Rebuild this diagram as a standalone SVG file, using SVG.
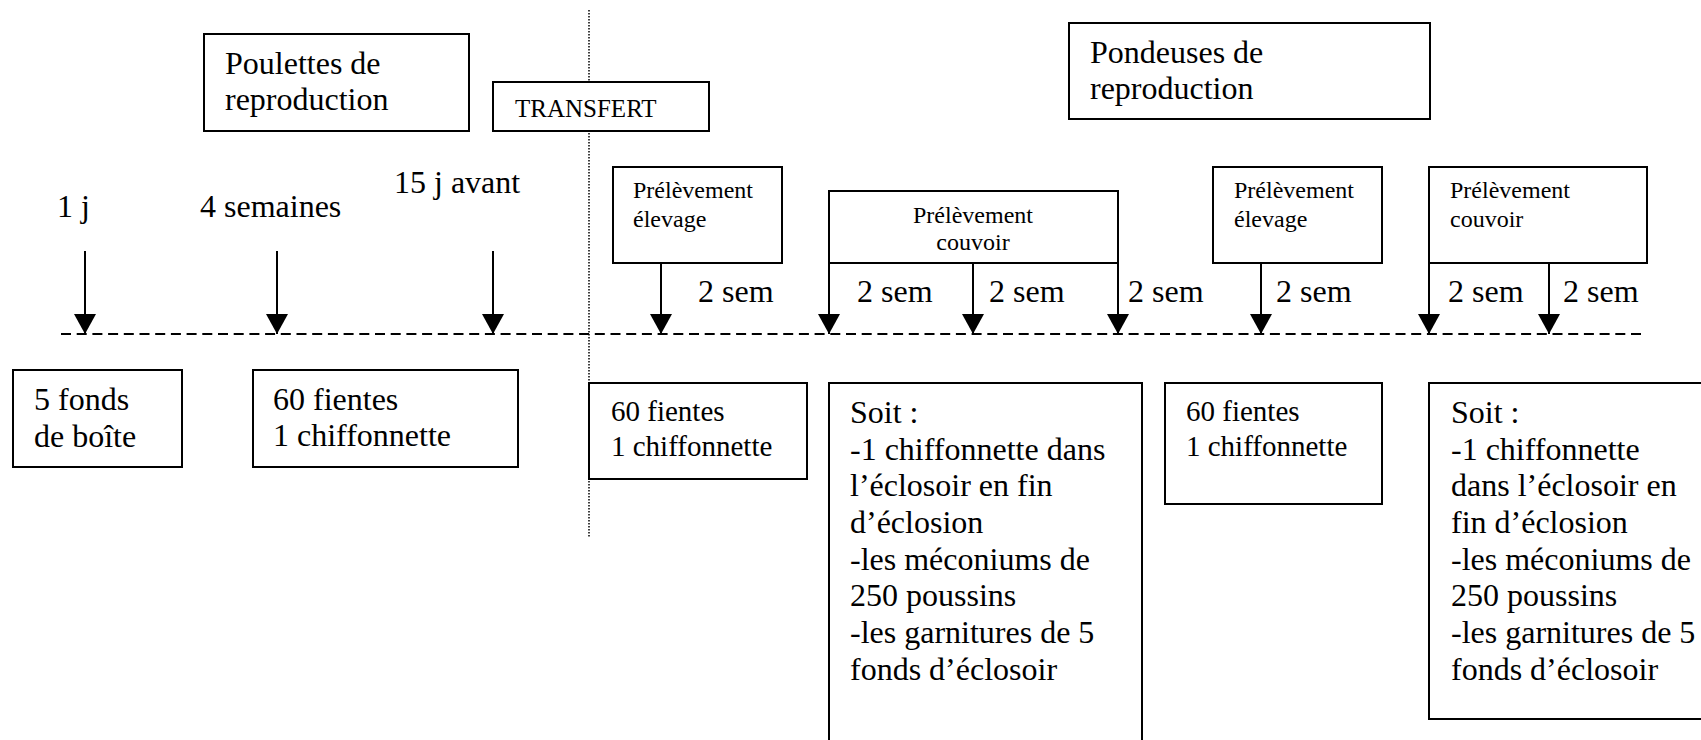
<svg xmlns="http://www.w3.org/2000/svg" width="1701" height="740" viewBox="0 0 1701 740">
  <style>
    text { font-family: "Liberation Serif", "Times New Roman", serif; fill: #000; }
    .big { font-size: 32px; }
    .mid { font-size: 29px; }
    .small { font-size: 24px; }
    .tr { font-size: 25px; }
    .box { fill: #fff; stroke: #000; stroke-width: 2; }
    .arrow { stroke: #000; stroke-width: 2; fill: none; marker-end: url(#ah); }
    .dash { stroke: #000; stroke-width: 2; stroke-dasharray: 10 5.7; fill: none; }
    .dot { stroke: #000; stroke-width: 1.5; stroke-dasharray: 1.5 1.5; fill: none; }
  </style>
  <defs>
    <marker id="ah" markerUnits="userSpaceOnUse" markerWidth="20" markerHeight="22" refX="20" refY="11" orient="auto">
      <path d="M0,0 L20,11 L0,22 z" fill="#000"/>
    </marker>
  </defs>
  <rect width="1701" height="740" fill="#fff"/>

  <g id="connectors">
    <line class="dot" x1="589" y1="10" x2="589" y2="537"/>
    <line class="dash" x1="61" y1="334" x2="1643" y2="334"/>
    <line class="arrow" x1="85" y1="251" x2="85" y2="334"/>
    <line class="arrow" x1="277" y1="251" x2="277" y2="334"/>
    <line class="arrow" x1="493" y1="251" x2="493" y2="334"/>
    <line class="arrow" x1="661" y1="263" x2="661" y2="334"/>
    <line class="arrow" x1="829" y1="263" x2="829" y2="334"/>
    <line class="arrow" x1="973" y1="263" x2="973" y2="334"/>
    <line class="arrow" x1="1118" y1="263" x2="1118" y2="334"/>
    <line class="arrow" x1="1261" y1="263" x2="1261" y2="334"/>
    <line class="arrow" x1="1429" y1="263" x2="1429" y2="334"/>
    <line class="arrow" x1="1549" y1="263" x2="1549" y2="334"/>
  </g>

  <g id="labels">
    <text class="big" x="57" y="217">1 j</text>
    <text class="big" x="200" y="217">4 semaines</text>
    <text class="big" x="394" y="193">15 j avant</text>
    <text class="big" x="698" y="302">2 sem</text>
    <text class="big" x="857" y="302">2 sem</text>
    <text class="big" x="989" y="302">2 sem</text>
    <text class="big" x="1128" y="302">2 sem</text>
    <text class="big" x="1276" y="302">2 sem</text>
    <text class="big" x="1448" y="302">2 sem</text>
    <text class="big" x="1563" y="302">2 sem</text>
  </g>

  <g id="poulettes">
    <rect class="box" x="204" y="34" width="265" height="97"/>
    <text class="big" x="225" y="74">Poulettes de</text>
    <text class="big" x="225" y="110">reproduction</text>
  </g>

  <g id="transfert">
    <rect class="box" x="493" y="82" width="216" height="49"/>
    <text class="tr" x="515" y="117">TRANSFERT</text>
  </g>

  <g id="pondeuses">
    <rect class="box" x="1069" y="23" width="361" height="96"/>
    <text class="big" x="1090" y="63">Pondeuses de</text>
    <text class="big" x="1090" y="99">reproduction</text>
  </g>

  <g id="prelevement-elevage-1">
    <rect class="box" x="613" y="167" width="169" height="96"/>
    <text class="small" x="633" y="198">Prélèvement</text>
    <text class="small" x="633" y="227">élevage</text>
  </g>

  <g id="prelevement-couvoir-1">
    <rect class="box" x="829" y="191" width="289" height="72"/>
    <text class="small" x="973" y="223" text-anchor="middle">Prélèvement</text>
    <text class="small" x="973" y="250" text-anchor="middle">couvoir</text>
  </g>

  <g id="prelevement-elevage-2">
    <rect class="box" x="1213" y="167" width="169" height="96"/>
    <text class="small" x="1234" y="198">Prélèvement</text>
    <text class="small" x="1234" y="227">élevage</text>
  </g>

  <g id="prelevement-couvoir-2">
    <rect class="box" x="1429" y="167" width="218" height="96"/>
    <text class="small" x="1450" y="198">Prélèvement</text>
    <text class="small" x="1450" y="227">couvoir</text>
  </g>

  <g id="fonds-boite">
    <rect class="box" x="13" y="370" width="169" height="97"/>
    <text class="big" x="34" y="410">5 fonds</text>
    <text class="big" x="34" y="447">de boîte</text>
  </g>

  <g id="fientes-1">
    <rect class="box" x="253" y="370" width="265" height="97"/>
    <text class="big" x="273" y="410">60 fientes</text>
    <text class="big" x="273" y="446">1 chiffonnette</text>
  </g>

  <g id="fientes-2">
    <rect class="box" x="589" y="383" width="218" height="96"/>
    <text class="mid" x="611" y="421">60 fientes</text>
    <text class="mid" x="611" y="456">1 chiffonnette</text>
  </g>

  <g id="soit-1">
    <rect class="box" x="829" y="383" width="313" height="370"/>
    <text class="big" x="850" y="423">Soit :</text>
    <text class="big" x="850" y="459.5">-1 chiffonnette dans</text>
    <text class="big" x="850" y="496">l’éclosoir en fin</text>
    <text class="big" x="850" y="533">d’éclosion</text>
    <text class="big" x="850" y="569.5">-les méconiums de</text>
    <text class="big" x="850" y="606">250 poussins</text>
    <text class="big" x="850" y="643">-les garnitures de 5</text>
    <text class="big" x="850" y="679.5">fonds d’éclosoir</text>
  </g>

  <g id="fientes-3">
    <rect class="box" x="1165" y="383" width="217" height="121"/>
    <text class="mid" x="1186" y="421">60 fientes</text>
    <text class="mid" x="1186" y="456">1 chiffonnette</text>
  </g>

  <g id="soit-2">
    <rect class="box" x="1429" y="383" width="290" height="336"/>
    <text class="big" x="1451" y="423">Soit :</text>
    <text class="big" x="1451" y="459.5">-1 chiffonnette</text>
    <text class="big" x="1451" y="496">dans l’éclosoir en</text>
    <text class="big" x="1451" y="533">fin d’éclosion</text>
    <text class="big" x="1451" y="569.5">-les méconiums de</text>
    <text class="big" x="1451" y="606">250 poussins</text>
    <text class="big" x="1451" y="643">-les garnitures de 5</text>
    <text class="big" x="1451" y="679.5">fonds d’éclosoir</text>
  </g>
</svg>
